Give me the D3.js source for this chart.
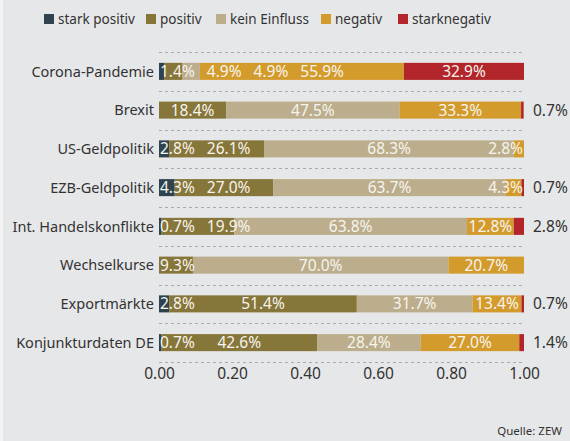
<!DOCTYPE html>
<html>
<head>
<meta charset="utf-8">
<script src="https://cdn.jsdelivr.net/npm/d3@7"></script>
<style>
  html, body { margin: 0; padding: 0; background: #f4f4f5; }
  svg { display: block; font-family: "Noto Sans", sans-serif; }
</style>
</head>
<body>
<svg id="chart" width="570" height="441"></svg>
<script>
const categories = [
  "Corona-Pandemie", "Brexit", "US-Geldpolitik", "EZB-Geldpolitik",
  "Int. Handelskonflikte", "Wechselkurse", "Exportmärkte", "Konjunkturdaten DE"
];
const seriesNames = ["stark positiv", "positiv", "kein Einfluss", "negativ", "starknegativ"];
const starkPositiv = [1.4, 0, 2.8, 4.3, 0.7, 0, 2.8, 0.7];
const positiv      = [4.9, 18.4, 26.1, 27.0, 19.9, 9.3, 51.4, 42.6];
const keinEinfluss = [4.9, 47.5, 68.3, 63.7, 63.8, 70.0, 31.7, 28.4];
const negativ      = [55.9, 33.3, 2.8, 4.3, 12.8, 20.7, 13.4, 27.0];
const starkNegativ = [32.9, 0.7, 0, 0.7, 2.8, 0, 0.7, 1.4];
const xTicks = [0, 0.2, 0.4, 0.6, 0.8, 1.0];
const colors = ["#2e434d", "#867639", "#bcae8c", "#d39b2c", "#b2252a"];

const series = [starkPositiv, positiv, keinEinfluss, negativ, starkNegativ];

const svg = d3.select("#chart");
const W = 570, H = 441;

svg.append("rect").attr("x", 3).attr("y", 0).attr("width", W - 3).attr("height", H)
  .attr("fill", "#e6e7e9");

const x = d3.scaleLinear().domain([0, 1]).range([159, 524]);
const y = d3.scaleBand().domain(categories).range([52, 362])
  .paddingInner(0.56).paddingOuter(0.28);

// dashed grid lines between rows
const gridY = d3.range(categories.length + 1).map(i => 52 + i * y.step());
svg.append("g").selectAll("line").data(gridY).join("line")
  .attr("x1", x(0)).attr("x2", 522)
  .attr("y1", d => Math.round(d) + 0.5).attr("y2", d => Math.round(d) + 0.5)
  .attr("stroke", "#a9aaac").attr("stroke-width", 1)
  .attr("stroke-dasharray", "3,3");

// stacked data
const rows = categories.map((c, i) => {
  let acc = 0;
  const segs = series.map((s, k) => {
    const v = s[i];
    const seg = { cat: c, k, v, x0: acc / 100, x1: (acc + v) / 100 };
    acc += v;
    return seg;
  });
  return { cat: c, segs };
});

const barG = svg.append("g");
rows.forEach(r => {
  barG.selectAll(null).data(r.segs.filter(s => s.v > 0)).join("rect")
    .attr("x", d => x(d.x0))
    .attr("width", d => Math.min(x(d.x1), x(1)) - x(d.x0))
    .attr("y", y(r.cat))
    .attr("height", y.bandwidth())
    .attr("fill", d => colors[d.k]);
});

// value labels: centred, kept inside the bar, pushed apart when crowded
const labG = svg.append("g").attr("font-size", 15.5);
rows.forEach(r => {
  const cy = y(r.cat) + y.bandwidth() / 2;
  const inside = [];
  r.segs.forEach(s => {
    if (s.v <= 0) return;
    const txt = s.v.toFixed(1) + "%";
    if (s.k === 4 && s.v < 5) {
      labG.append("text").text(txt)
        .attr("x", x(1) + 9).attr("y", cy).attr("dy", "0.36em")
        .attr("fill", "#333");
      return;
    }
    const t = labG.append("text").text(txt)
      .attr("y", cy).attr("dy", "0.36em")
      .attr("text-anchor", "middle")
      .attr("fill", "#f6f4ee");
    const w = t.node().getComputedTextLength();
    inside.push({ t, w, c: x((s.x0 + s.x1) / 2) });
  });
  const lo = x(0) + 1, hi = x(1) - 1, gap = 12;
  inside.forEach(l => { l.c = Math.max(lo + l.w / 2, Math.min(hi - l.w / 2, l.c)); });
  for (let i = 1; i < inside.length; i++) {
    const p = inside[i - 1], l = inside[i];
    const minC = p.c + p.w / 2 + gap + l.w / 2;
    if (l.c < minC) l.c = minC;
  }
  for (let i = inside.length - 1; i >= 0; i--) {
    const l = inside[i];
    const maxC = i === inside.length - 1 ? hi - l.w / 2
      : inside[i + 1].c - inside[i + 1].w / 2 - gap - l.w / 2;
    if (l.c > maxC) l.c = maxC;
  }
  inside.forEach(l => l.t.attr("x", l.c));
});

// category labels
svg.append("g").selectAll("text").data(categories).join("text")
  .attr("x", 154)
  .attr("y", d => y(d) + y.bandwidth() / 2)
  .attr("dy", "0.36em")
  .attr("text-anchor", "end")
  .attr("font-size", 14.5)
  .attr("fill", "#333")
  .text(d => d);

// x axis
const xAxis = svg.append("g").attr("transform", "translate(0,366)")
  .call(d3.axisBottom(x).tickValues(xTicks).tickFormat(d3.format(".2f")).tickSize(0).tickPadding(2));
xAxis.select(".domain").remove();
xAxis.selectAll("text").attr("font-size", 15.5).attr("fill", "#333")
  .attr("font-family", "Noto Sans, sans-serif");

// legend
const legendX = [44, 146, 216, 321, 398];
const leg = svg.append("g").selectAll("g").data(seriesNames).join("g")
  .attr("transform", (d, i) => `translate(${legendX[i]},19)`);
leg.append("rect").attr("x", 0).attr("y", -5).attr("width", 10).attr("height", 10)
  .attr("fill", (d, i) => colors[i]);
leg.append("text").attr("x", 14).attr("dy", "0.36em")
  .attr("font-size", 13.5).attr("fill", "#333").text(d => d);

// source
svg.append("text").attr("x", 562).attr("y", 435)
  .attr("text-anchor", "end").attr("font-size", 11.5).attr("fill", "#333")
  .text("Quelle: ZEW");
</script>
</body>
</html>
